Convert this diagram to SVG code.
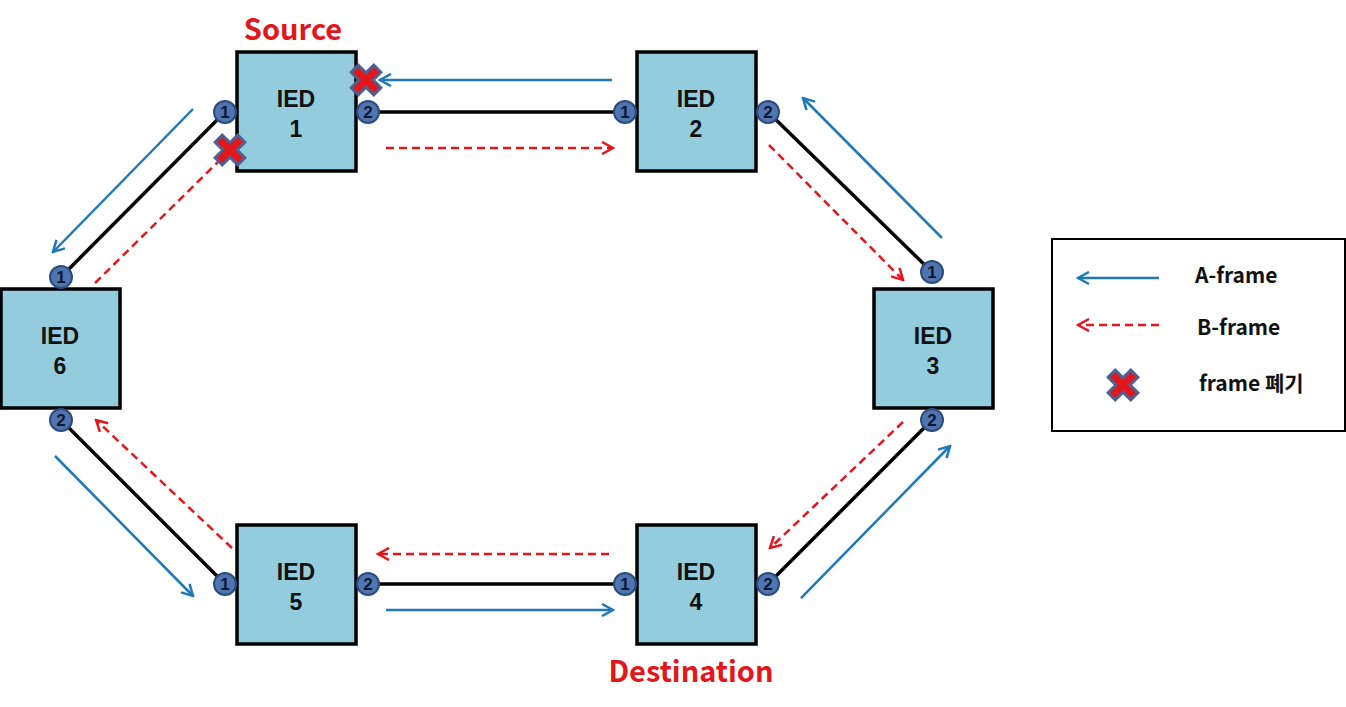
<svg xmlns="http://www.w3.org/2000/svg" xmlns:xlink="http://www.w3.org/1999/xlink" width="1346" height="707" viewBox="0 0 1346 707">
<style>
.box{fill:#93CDDD;stroke:#000;stroke-width:3.5}
.lbl{font-family:"Liberation Sans",sans-serif;font-weight:bold;font-size:23px;fill:#111;text-anchor:middle}
.port{fill:#4F74AE;stroke:#2C4C80;stroke-width:2}
.pn{font-family:"Liberation Sans",sans-serif;font-weight:bold;font-size:17px;fill:#0B1733;text-anchor:middle}
.link{stroke:#000;stroke-width:3.5;fill:none}
.a{stroke:#1F78B8;stroke-width:2.5;fill:none;marker-end:url(#ha)}
.b{stroke:#E3161C;stroke-width:2.5;fill:none;stroke-dasharray:8 5;marker-end:url(#hb)}
.title{font-family:"Noto Sans CJK KR","Liberation Sans",sans-serif;font-weight:bold;font-size:29px;fill:#E3161C;text-anchor:middle}
.leg{font-family:"Noto Sans CJK KR","Liberation Sans",sans-serif;font-weight:bold;font-size:21px;fill:#111}
.x{fill:#E3161C;stroke:#4F6090;stroke-width:3;stroke-linejoin:miter}
</style>
<defs>
<marker id="ha" viewBox="0 0 14 14" refX="12" refY="7" markerWidth="14" markerHeight="14" markerUnits="userSpaceOnUse" orient="auto"><path d="M1,1 L12,7 L1,13" fill="none" stroke="#1F78B8" stroke-width="2.5"/></marker>
<marker id="hb" viewBox="0 0 14 14" refX="12" refY="7" markerWidth="14" markerHeight="14" markerUnits="userSpaceOnUse" orient="auto"><path d="M1,1 L12,7 L1,13" fill="none" stroke="#E3161C" stroke-width="2.5"/></marker>
<g id="xmark"><path class="x" transform="rotate(45)" d="M-5,-16 L5,-16 L5,-5 L16,-5 L16,5 L5,5 L5,16 L-5,16 L-5,5 L-16,5 L-16,-5 L-5,-5 Z"/></g>
</defs>
<g id="connectors">
<line class="link" x1="368" y1="112" x2="625" y2="112"/>
<line class="link" x1="768" y1="112" x2="932" y2="272"/>
<line class="link" x1="932" y1="420" x2="768" y2="584"/>
<line class="link" x1="625" y1="584" x2="368" y2="584"/>
<line class="link" x1="225" y1="584" x2="61" y2="420"/>
<line class="link" x1="61" y1="277" x2="225" y2="112"/>
<line class="a" x1="612" y1="80" x2="380" y2="80"/>
<line class="a" x1="193" y1="109" x2="53" y2="252"/>
<line class="a" x1="55" y1="456" x2="193" y2="596"/>
<line class="a" x1="386" y1="610" x2="613" y2="610"/>
<line class="a" x1="801" y1="598" x2="950" y2="446"/>
<line class="a" x1="942" y1="238" x2="803" y2="98"/>
<line class="b" x1="386" y1="148" x2="613" y2="148"/>
<line class="b" x1="769" y1="145" x2="903" y2="280"/>
<line class="b" x1="903" y1="422" x2="770" y2="548"/>
<line class="b" x1="609" y1="554" x2="378" y2="554"/>
<line class="b" x1="232" y1="548" x2="96" y2="420"/>
<line class="b" x1="95" y1="283" x2="225" y2="155" style="marker-end:none"/>
</g>
<g id="ied1"><rect class="box" x="237" y="52" width="119" height="119"/><text class="lbl" x="296" y="107">IED</text><text class="lbl" x="296" y="137">1</text>
<circle class="port" cx="225" cy="112" r="11"/><text class="pn" x="225" y="118">1</text>
<circle class="port" cx="368" cy="112" r="11"/><text class="pn" x="368" y="118">2</text></g>
<g id="ied2"><rect class="box" x="637" y="52" width="119" height="119"/><text class="lbl" x="696" y="107">IED</text><text class="lbl" x="696" y="137">2</text>
<circle class="port" cx="625" cy="112" r="11"/><text class="pn" x="625" y="118">1</text>
<circle class="port" cx="768" cy="112" r="11"/><text class="pn" x="768" y="118">2</text></g>
<g id="ied3"><rect class="box" x="874" y="289" width="119" height="119"/><text class="lbl" x="933" y="344">IED</text><text class="lbl" x="933" y="374">3</text>
<circle class="port" cx="932" cy="272" r="11"/><text class="pn" x="932" y="278">1</text>
<circle class="port" cx="932" cy="420" r="11"/><text class="pn" x="932" y="426">2</text></g>
<g id="ied4"><rect class="box" x="637" y="525" width="119" height="119"/><text class="lbl" x="696" y="580">IED</text><text class="lbl" x="696" y="610">4</text>
<circle class="port" cx="625" cy="584" r="11"/><text class="pn" x="625" y="590">1</text>
<circle class="port" cx="768" cy="584" r="11"/><text class="pn" x="768" y="590">2</text></g>
<g id="ied5"><rect class="box" x="237" y="525" width="119" height="119"/><text class="lbl" x="296" y="580">IED</text><text class="lbl" x="296" y="610">5</text>
<circle class="port" cx="225" cy="584" r="11"/><text class="pn" x="225" y="590">1</text>
<circle class="port" cx="368" cy="584" r="11"/><text class="pn" x="368" y="590">2</text></g>
<g id="ied6"><rect class="box" x="1" y="289" width="119" height="119"/><text class="lbl" x="60" y="344">IED</text><text class="lbl" x="60" y="374">6</text>
<circle class="port" cx="61" cy="277" r="11"/><text class="pn" x="61" y="283">1</text>
<circle class="port" cx="61" cy="420" r="11"/><text class="pn" x="61" y="426">2</text></g>
<g id="drops">
<use xlink:href="#xmark" transform="translate(366,80)"/>
<use xlink:href="#xmark" transform="translate(230,150)"/>
</g>
<text class="title" x="293" y="40">Source</text>
<text class="title" x="691" y="682">Destination</text>
<g id="legend">
<rect x="1052" y="239" width="293" height="192" fill="#fff" stroke="#000" stroke-width="2"/>
<line class="a" x1="1159" y1="278" x2="1078" y2="278"/>
<line class="b" x1="1159" y1="325" x2="1078" y2="325"/>
<use xlink:href="#xmark" transform="translate(1123,385)"/>
<text class="leg" x="1195" y="283">A-frame</text>
<text class="leg" x="1197" y="335">B-frame</text>
<text class="leg" x="1199" y="391">frame 폐기</text>
</g>
</svg>
